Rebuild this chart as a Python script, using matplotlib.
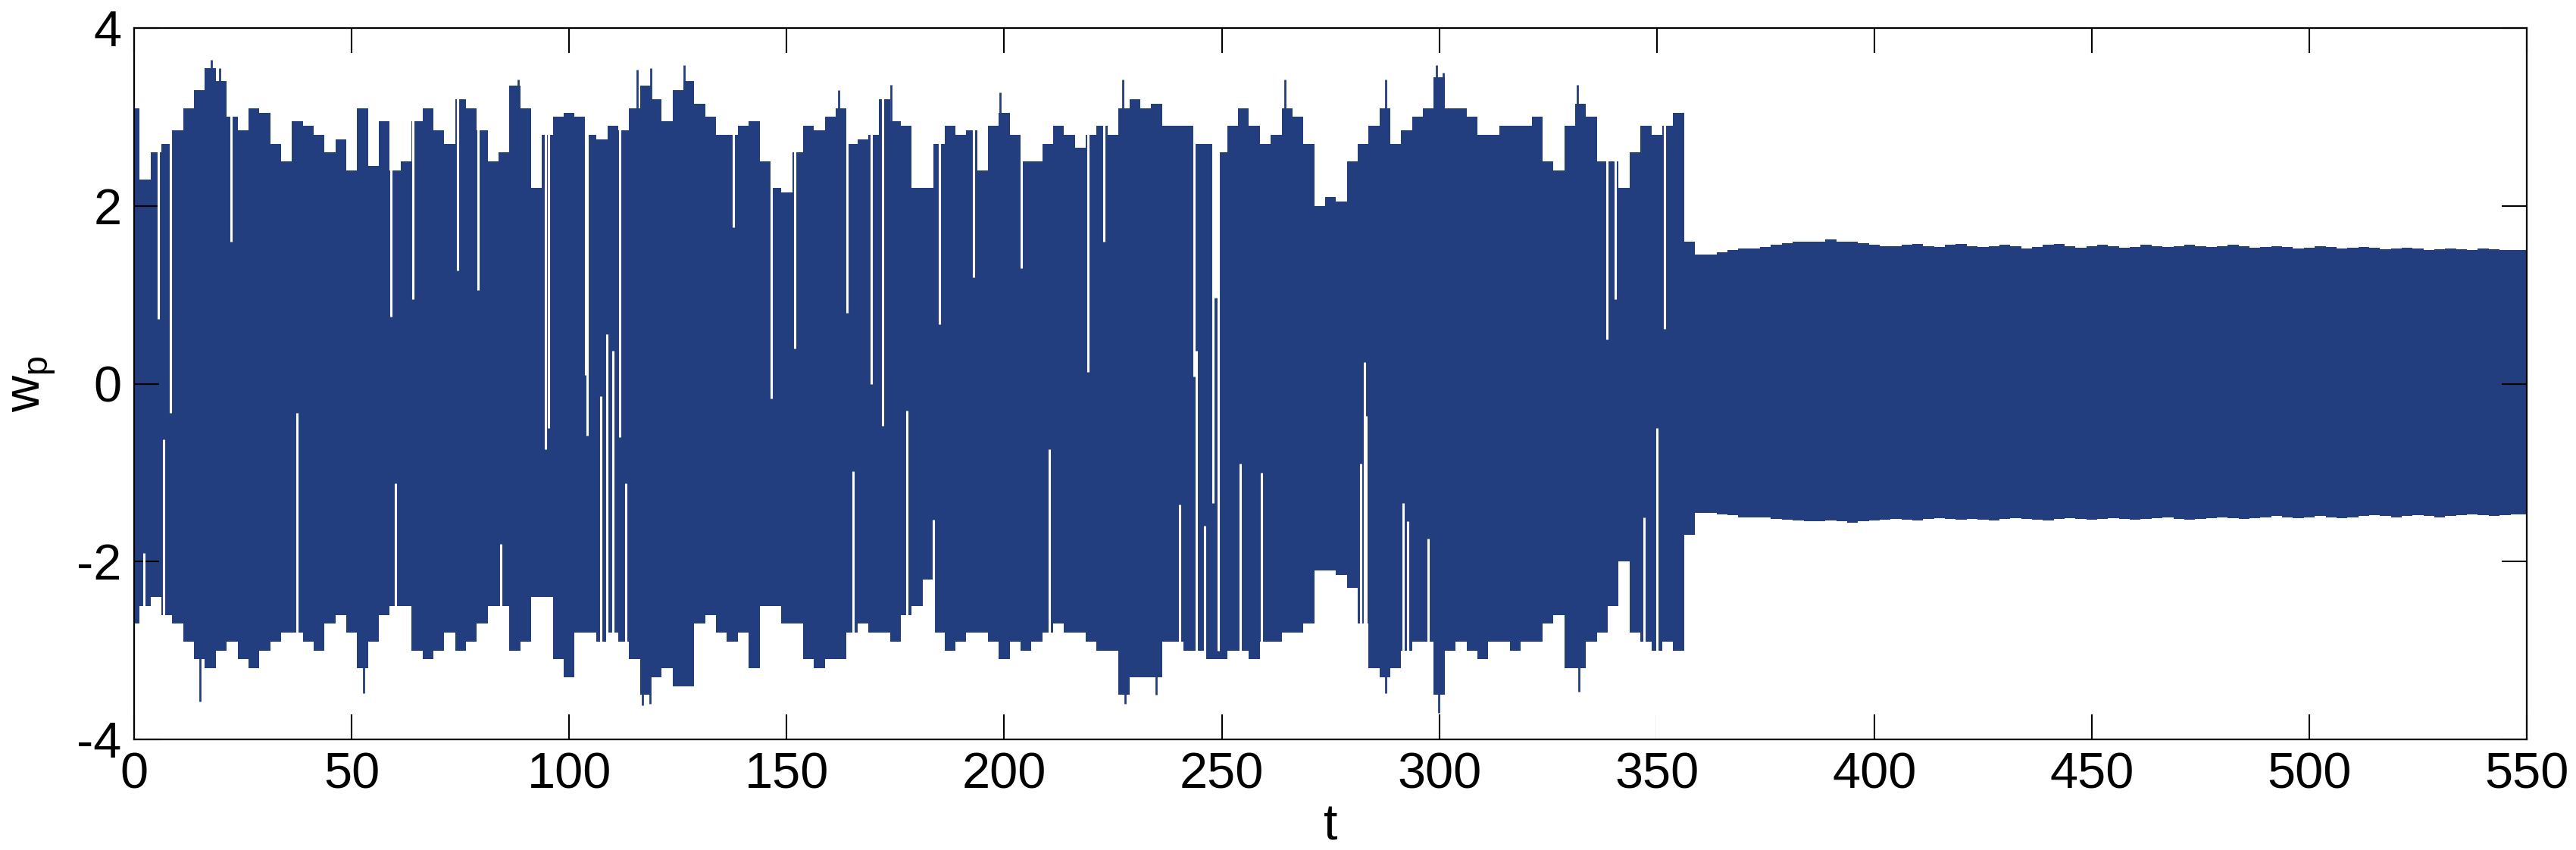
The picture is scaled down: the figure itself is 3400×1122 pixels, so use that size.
import matplotlib.pyplot as plt
import numpy as np

# sample times (every 2.5 time units) and the envelope of w_p
t = np.arange(0, 552.5, 2.5)
upper = [
    3.1, 2.3, 2.6, 2.7, 2.85, 3.1, 3.3, 3.55, 3.4, 3.0,
    2.85, 3.1, 3.05, 2.7, 2.5, 2.95, 2.9, 2.8, 2.6, 2.75,
    2.4, 3.1, 2.45, 2.95, 2.4, 2.5, 2.95, 3.1, 2.85, 2.7,
    3.2, 3.1, 2.85, 2.5, 2.6, 3.35, 3.1, 2.2, 2.8, 3.0,
    3.05, 3.0, 2.8, 2.75, 2.9, 2.85, 3.1, 3.35, 3.2, 2.95,
    3.3, 3.4, 3.15, 3.0, 2.8, 2.8, 2.9, 2.95, 2.5, 2.2,
    2.15, 2.6, 2.9, 2.85, 3.0, 3.1, 2.7, 2.75, 2.8, 3.2,
    2.95, 2.9, 2.2, 2.2, 2.7, 2.9, 2.8, 2.85, 2.4, 2.9,
    3.05, 2.8, 2.5, 2.5, 2.7, 2.9, 2.8, 2.65, 2.8, 2.9,
    2.8, 3.1, 3.2, 3.1, 3.15, 2.9, 2.9, 2.9, 2.7, 2.7,
    2.6, 2.9, 3.1, 2.9, 2.7, 2.8, 3.1, 3.0, 2.7, 2.0,
    2.1, 2.05, 2.5, 2.7, 2.9, 3.1, 2.7, 2.85, 3.0, 3.1,
    3.45, 3.1, 3.1, 3.0, 2.8, 2.8, 2.9, 2.9, 2.9, 3.0,
    2.5, 2.4, 2.9, 3.15, 3.0, 2.5, 2.5, 2.2, 2.6, 2.9,
    2.8, 2.9, 3.05, 1.6, 1.45, 1.45, 1.48, 1.5, 1.52, 1.52,
    1.54, 1.56, 1.58, 1.6, 1.6, 1.6, 1.62, 1.6, 1.6, 1.58,
    1.56, 1.55, 1.55, 1.56, 1.57, 1.55, 1.54, 1.56, 1.57, 1.55,
    1.54, 1.55, 1.56, 1.55, 1.52, 1.54, 1.56, 1.57, 1.55, 1.53,
    1.55, 1.56, 1.55, 1.53, 1.54, 1.56, 1.55, 1.54, 1.55, 1.56,
    1.55, 1.54, 1.55, 1.56, 1.55, 1.53, 1.54, 1.55, 1.54, 1.52,
    1.53, 1.55, 1.54, 1.52, 1.53, 1.54, 1.53, 1.51, 1.52, 1.53,
    1.52, 1.5, 1.51, 1.52, 1.51, 1.5, 1.52, 1.51, 1.5, 1.5,
    1.5,
]
lower = [
    -2.7, -2.5, -2.4, -2.6, -2.7, -2.9, -3.1, -3.2, -3.0, -2.9,
    -3.1, -3.2, -3.0, -2.9, -2.8, -2.8, -2.9, -3.0, -2.7, -2.6,
    -2.8, -3.2, -2.9, -2.6, -2.5, -2.5, -3.0, -3.1, -3.0, -2.8,
    -3.0, -2.9, -2.7, -2.5, -2.5, -3.0, -2.9, -2.4, -2.4, -3.1,
    -3.3, -2.8, -2.8, -2.9, -2.8, -2.9, -3.1, -3.5, -3.3, -3.2,
    -3.4, -3.4, -2.7, -2.6, -2.8, -2.9, -2.8, -3.2, -2.5, -2.5,
    -2.7, -2.7, -3.1, -3.2, -3.1, -3.1, -2.8, -2.7, -2.8, -2.8,
    -2.9, -2.6, -2.5, -2.2, -2.8, -3.0, -2.9, -2.8, -2.8, -2.9,
    -3.1, -2.9, -3.0, -2.9, -2.8, -2.7, -2.8, -2.8, -2.9, -3.0,
    -3.0, -3.5, -3.3, -3.3, -3.3, -2.9, -2.9, -3.0, -3.0, -3.1,
    -3.1, -3.0, -3.0, -3.1, -2.9, -2.9, -2.8, -2.8, -2.7, -2.1,
    -2.1, -2.15, -2.3, -2.7, -3.2, -3.3, -3.2, -3.0, -2.9, -2.9,
    -3.5, -3.0, -2.9, -3.0, -3.1, -2.9, -2.9, -3.0, -2.9, -2.9,
    -2.7, -2.6, -3.2, -3.2, -2.9, -2.8, -2.5, -2.0, -2.8, -2.9,
    -3.0, -2.9, -3.0, -1.7, -1.45, -1.45, -1.47, -1.48, -1.5, -1.5,
    -1.5, -1.52, -1.53, -1.54, -1.55, -1.55, -1.54, -1.55, -1.56, -1.55,
    -1.54, -1.53, -1.52, -1.53, -1.54, -1.52, -1.51, -1.52, -1.53, -1.52,
    -1.53, -1.54, -1.52, -1.51, -1.52, -1.53, -1.54, -1.52, -1.51, -1.52,
    -1.53, -1.52, -1.51, -1.52, -1.53, -1.52, -1.51, -1.5, -1.52, -1.53,
    -1.52, -1.51, -1.5, -1.51, -1.52, -1.51, -1.5, -1.49, -1.5, -1.51,
    -1.5, -1.49, -1.5, -1.51, -1.5, -1.49, -1.48, -1.49, -1.5, -1.49,
    -1.48, -1.49, -1.5, -1.49, -1.48, -1.47, -1.48, -1.49, -1.48, -1.47,
    -1.47,
]

# single extreme excursions
peak_t = [16.8, 17.8, 19.6, 88.3, 115.7, 118.8, 126.4, 162.0, 173.9, 199.0,
          227.2, 264.6, 287.7, 299.3, 301.0, 331.8]
peak_v = [3.53, 3.64, 3.55, 3.42, 3.53, 3.55, 3.58, 3.3, 3.36, 3.28,
          3.42, 3.42, 3.42, 3.58, 3.5, 3.36]
trough_t = [15.2, 52.8, 116.8, 118.5, 227.7, 235.0, 287.7, 299.9, 332.1]
trough_v = [-3.57, -3.48, -3.62, -3.6, -3.6, -3.5, -3.48, -3.7, -3.46]

# short drop-outs of the upper edge (white gaps from the top down to a level)
dip_t = [5.6, 8.4, 22.2, 59.0, 64.0, 74.3, 79.1, 94.6, 95.2, 103.8,
         104.2, 111.7, 137.8, 146.4, 151.8, 163.9, 169.4, 172.0, 185.1, 192.9,
         204.0, 219.2, 222.9, 243.6, 247.9, 248.3, 248.7, 249.2, 338.5, 340.4,
         351.8]
dip_level = [0.73, -0.33, 1.6, 0.75, 0.95, 1.27, 1.05, -0.74, -0.5, 0.1,
             -0.58, -0.6, 1.76, -0.17, 0.4, 0.8, 0.0, -0.47, 0.67, 1.2,
             1.3, 0.13, 1.6, 0.08, -1.34, 0.97, 0.97, -3.0, 0.5, 0.95,
             0.62]
# drop-outs of the lower edge (white gaps from the bottom up to a level)
rise_t = [2.3, 6.7, 37.4, 60.0, 84.2, 107.2, 108.7, 110.1, 113.0, 165.3,
          177.7, 183.7, 210.3, 240.3, 244.2, 246.1, 254.3, 259.1, 282.0, 282.8,
          283.2, 291.7, 292.8, 297.4, 347.1, 350.0]
rise_level = [-1.9, -0.63, -0.33, -1.12, -1.8, -0.14, 0.56, 0.37, -1.12, -0.98,
              -0.3, -1.53, -0.74, -1.36, 0.37, -1.6, -0.9, -1.0, -0.9, 0.24,
              -0.36, -1.34, -1.55, -1.74, -1.5, -0.5]

blue = '#233E7E'
plt.rcParams['font.family'] = ['Liberation Sans', 'DejaVu Sans']
plt.rcParams['mathtext.fontset'] = 'custom'
plt.rcParams['mathtext.rm'] = 'Liberation Sans'
plt.rcParams['axes.unicode_minus'] = False

fig = plt.figure(figsize=(34, 11.22), dpi=100)
ax = fig.add_axes([0.0521, 0.1301, 0.9288, 0.8369])

ax.fill_between(t, lower, upper, step='mid', color=blue, lw=0)
ax.vlines(peak_t, 0, peak_v, color=blue, lw=2)
ax.vlines(trough_t, trough_v, 0, color=blue, lw=2)
ax.vlines(dip_t, dip_level, 4, color='white', lw=2.2)
ax.vlines(rise_t, -4, rise_level, color='white', lw=2.2)

ax.set_xlim(0, 550)
ax.set_ylim(-4, 4)
ax.set_xticks(np.arange(0, 551, 50))
ax.set_yticks([-4, -2, 0, 2, 4])
ax.tick_params(direction='in', length=24, width=1.5, top=True, right=True,
               labelsize=48, pad=12)
for s in ax.spines.values():
    s.set_linewidth(1.6)

ax.set_xlabel('t', fontsize=48, labelpad=4)
ax.set_ylabel(r'w$_\mathregular{p}$', fontsize=48, labelpad=18)

fig.savefig('out.png', dpi=100, facecolor='white')
